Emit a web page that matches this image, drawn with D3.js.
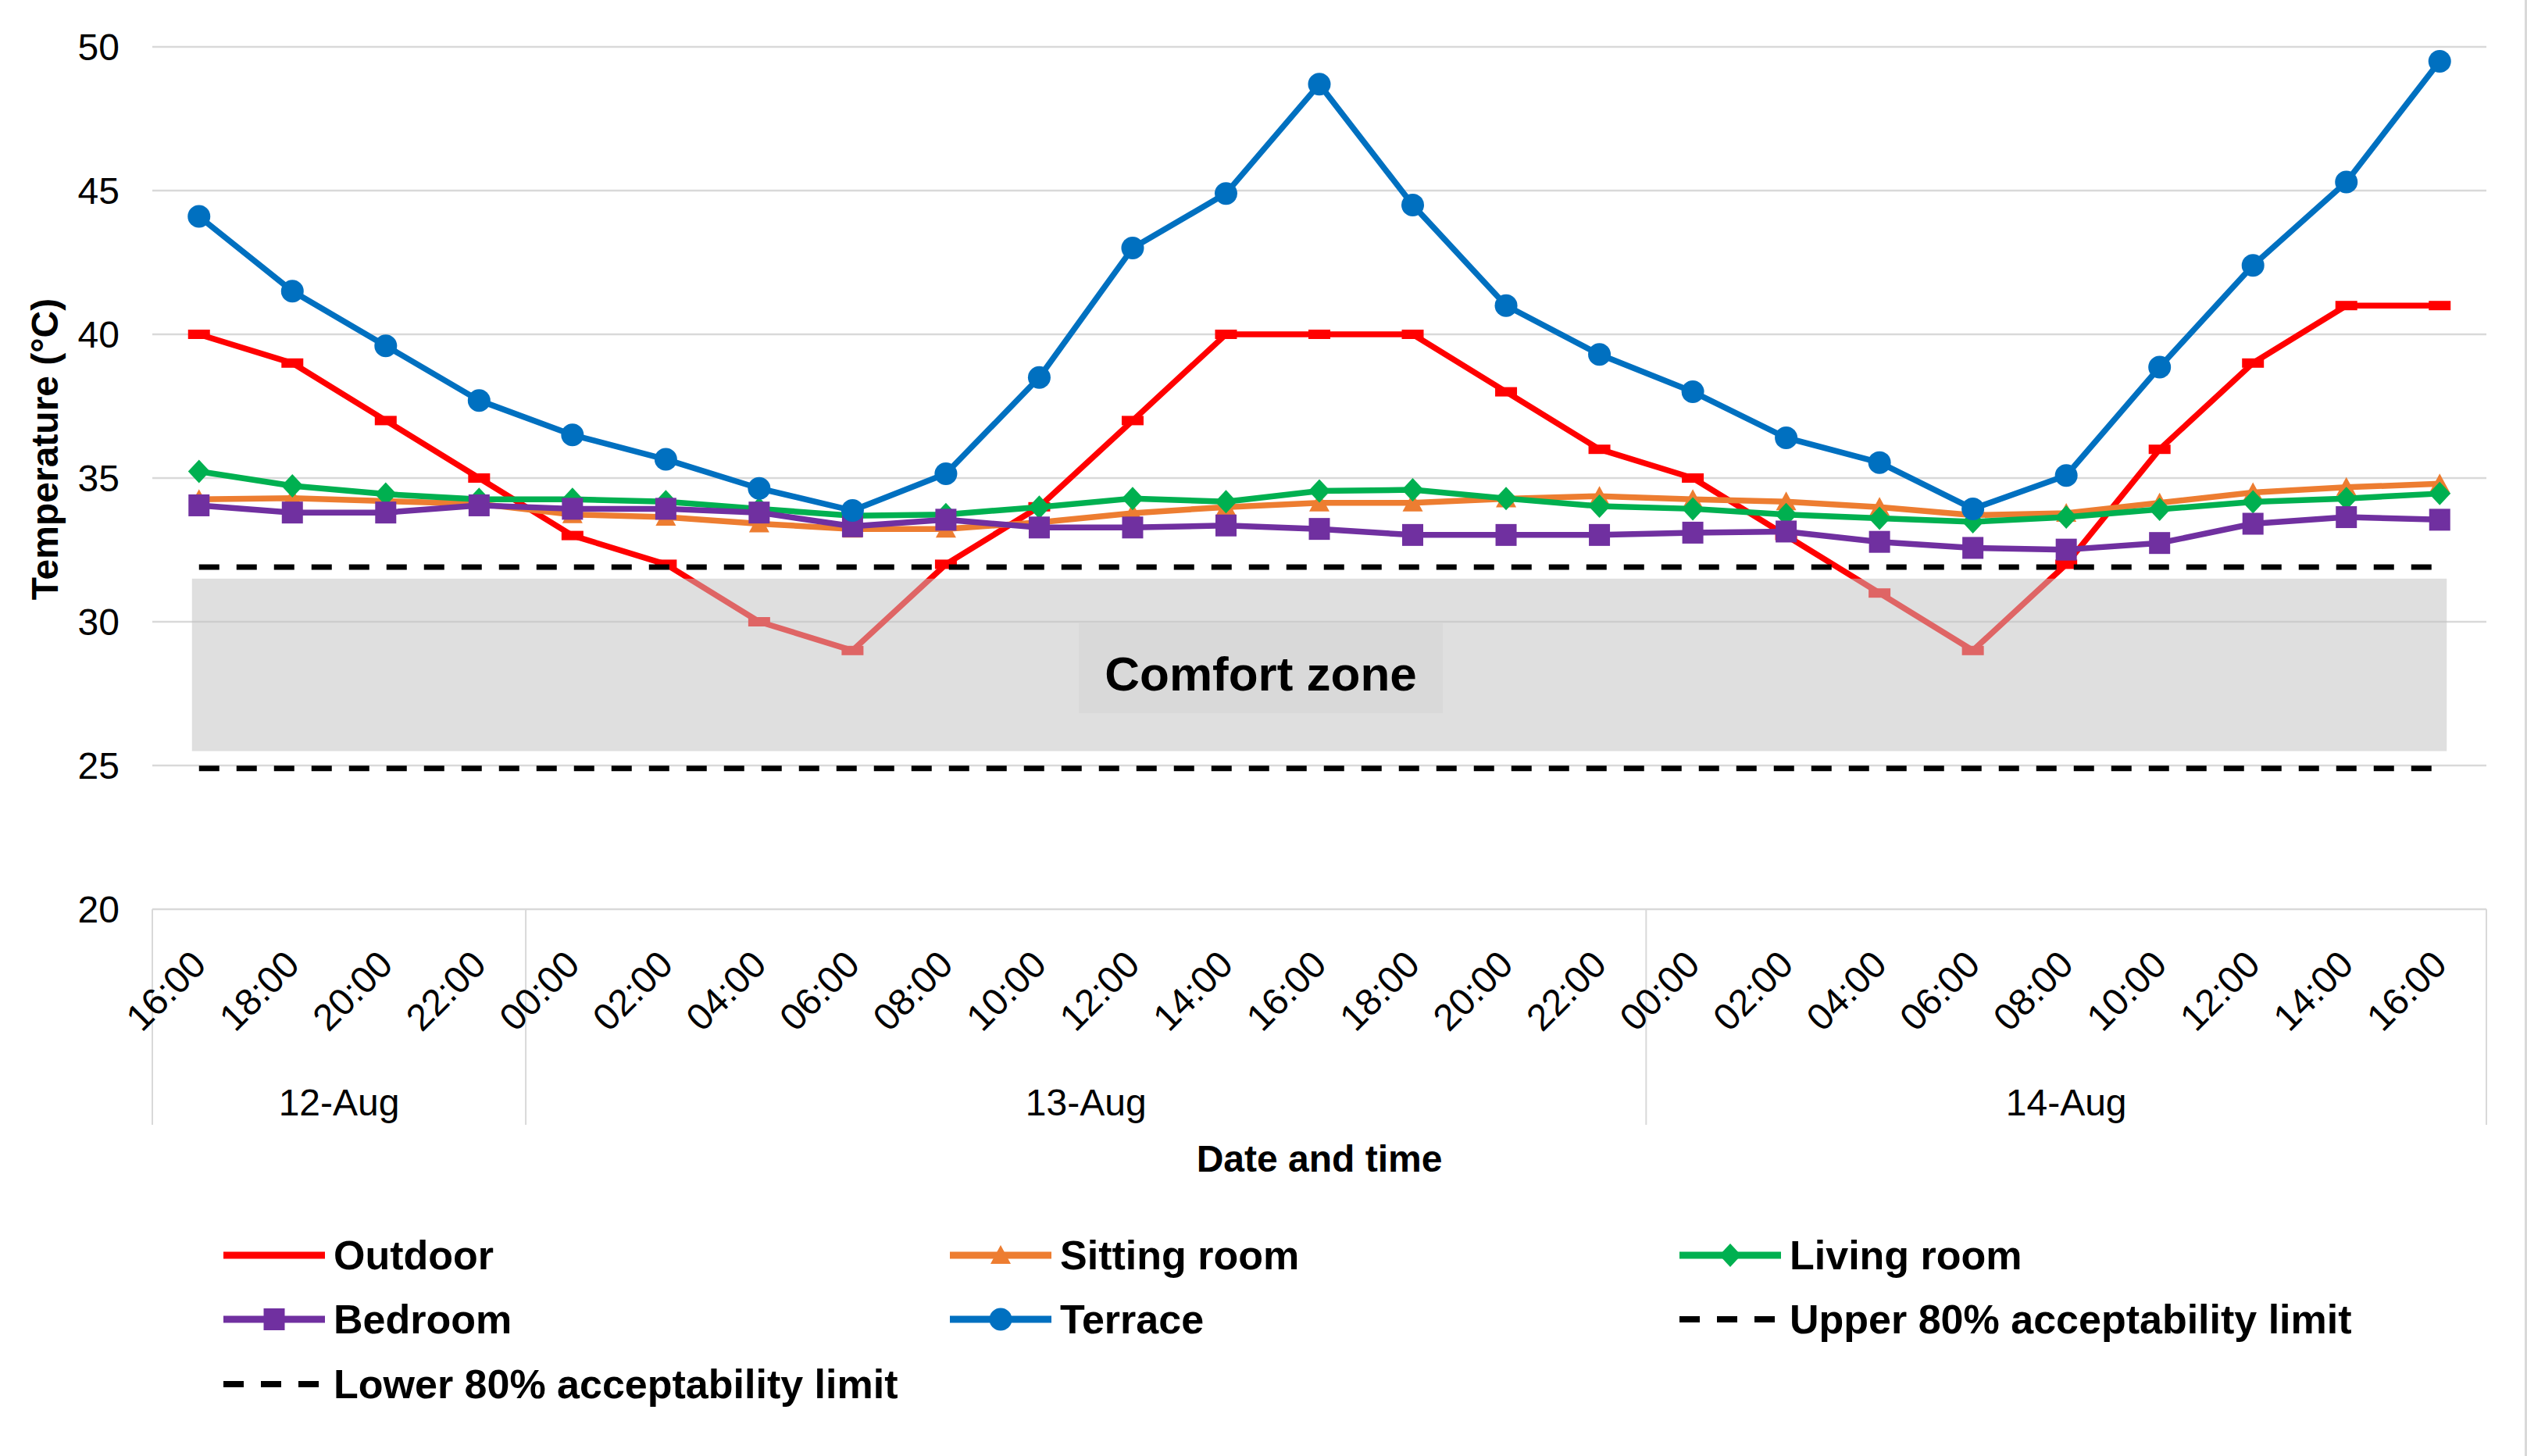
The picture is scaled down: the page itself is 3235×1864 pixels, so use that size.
<!DOCTYPE html>
<html>
<head>
<meta charset="utf-8">
<script src="https://cdn.jsdelivr.net/npm/d3@7"></script>
<style>
  body { margin: 0; background: #fff; }
  svg { display: block; font-family: "Liberation Sans Narrow", "Liberation Sans", Arial, sans-serif; }
</style>
</head>
<body>
<div id="chart"></div>
<script>
// time of day for each reading (2-hour steps, 12-Aug 16:00 to 14-Aug 16:00)
const times = ['16:00', '18:00', '20:00', '22:00',
  '00:00', '02:00', '04:00', '06:00', '08:00', '10:00', '12:00', '14:00', '16:00', '18:00', '20:00', '22:00',
  '00:00', '02:00', '04:00', '06:00', '08:00', '10:00', '12:00', '14:00', '16:00'];
const dayLabels = ['12-Aug', '13-Aug', '14-Aug'];
const daySpans = [4, 12, 9];

const outdoor = [40, 39, 37, 35, 33, 32, 30, 29, 32, 34, 37, 40, 40, 40, 38, 36, 35, 33, 31, 29, 32, 36, 39, 41, 41];
const sittingRoom = [34.26, 34.3, 34.2, 34.1, 33.73, 33.64, 33.41, 33.23, 33.23, 33.46, 33.78, 33.99, 34.14, 34.14, 34.28, 34.37,
  34.26, 34.18, 33.99, 33.71, 33.78, 34.14, 34.5, 34.68, 34.8];
const livingRoom = [35.23, 34.73, 34.44, 34.26, 34.26, 34.18, 33.93, 33.69, 33.73, 33.99, 34.29, 34.18, 34.55, 34.59, 34.29, 34.02,
  33.93, 33.73, 33.6, 33.48, 33.64, 33.91, 34.17, 34.29, 34.46];
const bedroom = [34.05, 33.8, 33.8, 34.05, 33.93, 33.93, 33.8, 33.32, 33.55, 33.28, 33.28, 33.35, 33.23, 33.02, 33.02, 33.02,
  33.1, 33.14, 32.78, 32.57, 32.51, 32.74, 33.41, 33.64, 33.55];
const terrace = [44.1, 41.5, 39.6, 37.7, 36.5, 35.65, 34.64, 33.87, 35.15, 38.5, 43.0, 44.9, 48.7, 44.5, 41.0, 39.3,
  38.0, 36.4, 35.54, 33.93, 35.09, 38.86, 42.4, 45.3, 49.5];
const upperLimit = 31.9;
const lowerLimit = 24.9;
const comfortZone = [25.5, 31.5];
const yTicks = [20, 25, 30, 35, 40, 45, 50];

const width = 3235;
const height = 1864;
const margin = { top: 60, right: 52, bottom: 700, left: 195 };

const svg = d3.select('#chart')
  .append('svg')
  .attr('width', width)
  .attr('height', height);

svg.append('rect').attr('width', width).attr('height', height).attr('fill', '#fff');

const x = d3.scaleBand()
  .domain(times.map((d, i) => i))
  .range([margin.left, width - margin.right])
  .padding(0);
const cx = (i) => x(i) + x.bandwidth() / 2;

const y = d3.scaleLinear()
  .domain([20, 50])
  .range([height - margin.bottom, margin.top]);

const y0 = y(20);

// gridlines
svg.append('g')
  .selectAll('line')
  .data(yTicks)
  .enter()
  .append('line')
  .attr('x1', margin.left)
  .attr('x2', width - margin.right)
  .attr('y1', (d) => y(d))
  .attr('y2', (d) => y(d))
  .attr('stroke', '#d9d9d9')
  .attr('stroke-width', 2.5);

// y tick labels
svg.append('g')
  .selectAll('text')
  .data(yTicks)
  .enter()
  .append('text')
  .attr('x', 153)
  .attr('y', (d) => y(d))
  .attr('text-anchor', 'end')
  .attr('dominant-baseline', 'central')
  .attr('font-size', '48px')
  .attr('fill', '#000')
  .text((d) => d);

// day group separators
const bounds = [0];
daySpans.forEach((s, i) => bounds.push(bounds[i] + s));
svg.append('g')
  .selectAll('line')
  .data(bounds)
  .enter()
  .append('line')
  .attr('x1', (d) => (d < times.length ? x(d) : x(times.length - 1) + x.bandwidth()))
  .attr('x2', (d) => (d < times.length ? x(d) : x(times.length - 1) + x.bandwidth()))
  .attr('y1', y0)
  .attr('y2', 1440)
  .attr('stroke', '#d9d9d9')
  .attr('stroke-width', 2);

// time labels
svg.append('g')
  .selectAll('text')
  .data(times)
  .enter()
  .append('text')
  .attr('transform', (d, i) => `translate(${cx(i)}, 1226) rotate(-45)`)
  .attr('text-anchor', 'end')
  .attr('dominant-baseline', 'central')
  .attr('font-size', '48px')
  .text((d) => d);

// day labels
svg.append('g')
  .selectAll('text')
  .data(dayLabels)
  .enter()
  .append('text')
  .attr('x', (d, i) => {
    const a = x(bounds[i]);
    const b = x(bounds[i + 1] - 1) + x.bandwidth();
    return (a + b) / 2;
  })
  .attr('y', 1411)
  .attr('text-anchor', 'middle')
  .attr('dominant-baseline', 'central')
  .attr('font-size', '48px')
  .text((d) => d);

// axis titles
svg.append('text')
  .attr('x', (margin.left + width - margin.right) / 2)
  .attr('y', 1483)
  .attr('text-anchor', 'middle')
  .attr('dominant-baseline', 'central')
  .attr('font-size', '48px')
  .attr('font-weight', 'bold')
  .text('Date and time');

svg.append('text')
  .attr('transform', 'translate(57, 575) rotate(-90)')
  .attr('text-anchor', 'middle')
  .attr('dominant-baseline', 'central')
  .attr('font-size', '48px')
  .attr('font-weight', 'bold')
  .text('Temperature (°C)');

// series
const series = [
  { name: 'Outdoor', values: outdoor, color: '#ff0000', marker: 'dash' },
  { name: 'Sitting room', values: sittingRoom, color: '#ed7d31', marker: 'triangle' },
  { name: 'Living room', values: livingRoom, color: '#00b050', marker: 'diamond' },
  { name: 'Bedroom', values: bedroom, color: '#7030a0', marker: 'square' },
  { name: 'Terrace', values: terrace, color: '#0070c0', marker: 'circle' },
];

const markerPath = (type) => {
  switch (type) {
    case 'dash': return 'M-14,-6H14V6H-14Z';
    case 'triangle': return 'M0,-13L13,11H-13Z';
    case 'diamond': return 'M0,-15L14,0L0,15L-14,0Z';
    case 'square': return 'M-13.5,-14H13.5V14H-13.5Z';
    case 'circle': return d3.symbol().type(d3.symbolCircle).size(Math.PI * 14.5 * 14.5)();
    default: return '';
  }
};

const line = d3.line()
  .x((d, i) => cx(i))
  .y((d) => y(d));

series.forEach((s) => {
  const g = svg.append('g');
  g.append('path')
    .attr('d', line(s.values))
    .attr('fill', 'none')
    .attr('stroke', s.color)
    .attr('stroke-width', 7.5)
    .attr('stroke-linejoin', 'round');
  g.selectAll('path.m')
    .data(s.values)
    .enter()
    .append('path')
    .attr('class', 'm')
    .attr('transform', (d, i) => `translate(${cx(i)}, ${y(d)})`)
    .attr('d', markerPath(s.marker))
    .attr('fill', s.color);
});

// acceptability limits
[upperLimit, lowerLimit].forEach((v) => {
  svg.append('path')
    .attr('d', line(times.map(() => v)))
    .attr('fill', 'none')
    .attr('stroke', '#000')
    .attr('stroke-width', 7)
    .attr('stroke-dasharray', '26,22');
});

// comfort zone overlay
svg.append('rect')
  .attr('x', cx(0) - 9)
  .attr('width', cx(times.length - 1) - cx(0) + 18)
  .attr('y', y(comfortZone[1]))
  .attr('height', y(comfortZone[0]) - y(comfortZone[1]))
  .attr('fill', 'rgb(194,194,194)')
  .attr('fill-opacity', 0.52);

svg.append('rect')
  .attr('x', 1381)
  .attr('y', 798)
  .attr('width', 466)
  .attr('height', 115)
  .attr('fill', '#d9d9d9');

svg.append('text')
  .attr('x', 1614)
  .attr('y', 862)
  .attr('text-anchor', 'middle')
  .attr('dominant-baseline', 'central')
  .attr('font-size', '62px')
  .attr('font-weight', 'bold')
  .text('Comfort zone');

// legend
const legendItems = [
  { name: 'Outdoor', color: '#ff0000', marker: 'dash', col: 0, row: 0 },
  { name: 'Sitting room', color: '#ed7d31', marker: 'triangle', col: 1, row: 0 },
  { name: 'Living room', color: '#00b050', marker: 'diamond', col: 2, row: 0 },
  { name: 'Bedroom', color: '#7030a0', marker: 'square', col: 0, row: 1 },
  { name: 'Terrace', color: '#0070c0', marker: 'circle', col: 1, row: 1 },
  { name: 'Upper 80% acceptability limit', color: '#000', dashed: true, col: 2, row: 1 },
  { name: 'Lower 80% acceptability limit', color: '#000', dashed: true, col: 0, row: 2 },
];
const colX = [286, 1216, 2150];
const rowY = [1607, 1689, 1772];

const legend = svg.append('g');
legendItems.forEach((d) => {
  const lx = colX[d.col];
  const ly = rowY[d.row];
  legend.append('line')
    .attr('x1', lx)
    .attr('x2', lx + 130)
    .attr('y1', ly)
    .attr('y2', ly)
    .attr('stroke', d.color)
    .attr('stroke-width', d.dashed ? 8 : 9)
    .attr('stroke-dasharray', d.dashed ? '26,22' : null);
  if (d.marker && d.marker !== 'dash') {
    legend.append('path')
      .attr('transform', `translate(${lx + 65}, ${ly})`)
      .attr('d', markerPath(d.marker))
      .attr('fill', d.color);
  }
  legend.append('text')
    .attr('x', lx + 141)
    .attr('y', ly)
    .attr('dominant-baseline', 'central')
    .attr('font-size', '52px')
    .attr('font-weight', 'bold')
    .text(d.name);
});

// chart border at right edge
svg.append('line')
  .attr('x1', width - 1.5)
  .attr('x2', width - 1.5)
  .attr('y1', 0)
  .attr('y2', height)
  .attr('stroke', '#d9d9d9')
  .attr('stroke-width', 3);
</script>
</body>
</html>
